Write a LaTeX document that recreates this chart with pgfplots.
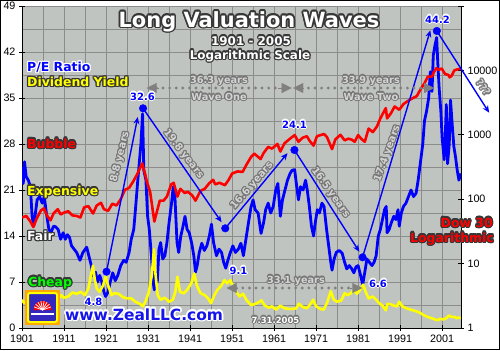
\documentclass[border=0pt]{standalone}
\usepackage{fontspec}
\setmainfont{Liberation Sans}
\newfontfamily\lab{DejaVu Sans}
\usepackage{pgfplots}
\pgfplotsset{compat=1.18}
\usetikzlibrary{arrows.meta}
\definecolor{plotbg}{RGB}{192,196,192}
\definecolor{gridc}{RGB}{140,140,140}
\definecolor{halodark}{RGB}{55,55,55}
\definecolor{yl}{RGB}{255,255,0}
\definecolor{gr}{RGB}{0,255,0}
\definecolor{ltg}{RGB}{212,212,212}
\definecolor{dkg}{RGB}{118,118,118}
\definecolor{dotg}{RGB}{128,128,128}
\definecolor{wwwblue}{RGB}{20,20,235}
\definecolor{logoblue}{RGB}{50,40,190}
\tikzset{lbl/.style={font=\lab\bfseries\fontsize{#1}{#1}\selectfont, inner sep=0pt}}
\newcommand\halo[7][1.1]{%
  \foreach \aa in {0,30,...,330}{\node[#4,text=#6] at ([shift={(\aa:#1bp)}]#2,#3) {#7};}%
  \node[#4,text=#5] at (#2,#3) {#7};}

\pgfplotstableread{
x y
1901.0 24.5
1901.3 22.0
1901.6 25.3
1902.0 23.0
1902.5 22.5
1903.0 21.5
1903.4 17.0
1903.8 15.5
1904.2 17.5
1904.6 19.5
1905.2 20.0
1905.8 19.0
1906.3 20.0
1906.8 17.5
1907.4 15.0
1907.9 14.5
1908.5 15.5
1909.0 15.4
1909.6 15.0
1910.2 13.5
1910.8 14.5
1911.3 13.5
1911.8 14.2
1912.3 13.8
1912.8 12.5
1913.4 12.0
1914.0 11.5
1914.8 10.3
1915.5 11.5
1916.4 12.3
1916.9 11.0
1917.5 9.5
1917.9 8.0
1918.5 8.5
1919.0 7.0
1919.5 8.0
1920.0 7.0
1920.5 5.5
1920.9 4.8
1921.5 5.5
1922.0 7.0
1922.6 8.4
1923.2 7.2
1923.8 8.0
1924.5 9.5
1925.2 10.3
1925.8 10.0
1926.5 11.5
1927.0 13.5
1927.6 15.0
1928.0 18.0
1928.5 22.0
1928.9 25.0
1929.3 28.0
1929.7 32.6
1930.0 24.0
1930.5 22.5
1930.9 17.0
1931.3 15.0
1931.8 11.0
1932.2 7.0
1932.5 5.8
1932.8 8.4
1933.2 7.0
1933.6 12.0
1934.0 13.0
1934.5 10.5
1935.0 11.0
1935.5 13.0
1936.0 16.0
1936.6 19.0
1937.0 21.5
1937.4 20.0
1937.9 13.0
1938.3 11.5
1938.8 14.0
1939.3 15.4
1939.8 17.0
1940.3 15.0
1940.8 14.5
1941.4 12.9
1941.9 11.0
1942.3 8.5
1942.7 9.5
1943.2 11.5
1943.8 12.9
1944.4 11.8
1945.0 12.5
1945.6 14.0
1946.1 15.8
1946.6 13.0
1947.3 11.0
1947.9 12.0
1948.5 11.5
1949.0 10.0
1949.5 9.1
1950.0 10.3
1950.6 11.5
1951.2 12.5
1951.8 11.5
1952.5 12.0
1953.1 12.9
1953.7 11.0
1954.3 13.5
1954.9 16.0
1955.5 18.4
1956.0 19.5
1956.5 18.0
1957.2 17.5
1957.9 14.4
1958.5 16.0
1959.0 18.0
1959.6 19.0
1960.2 17.5
1960.8 18.5
1961.4 21.0
1961.9 22.0
1962.5 17.0
1963.0 19.5
1963.6 21.0
1964.2 22.5
1964.8 23.5
1965.3 24.0
1965.9 24.1
1966.3 22.0
1966.8 19.5
1967.3 21.5
1967.9 21.0
1968.5 22.5
1968.9 21.0
1969.4 18.5
1969.9 15.5
1970.4 14.0
1970.8 16.0
1971.3 18.0
1971.8 17.5
1972.4 19.0
1972.9 18.5
1973.5 15.0
1974.0 12.5
1974.5 10.0
1974.8 8.8
1975.3 10.5
1975.8 11.5
1976.5 11.8
1977.2 11.4
1977.8 10.0
1978.3 9.0
1978.9 9.5
1979.5 9.0
1980.0 8.4
1980.5 9.3
1981.0 9.5
1981.6 8.0
1982.1 6.6
1982.6 8.5
1983.1 10.5
1983.7 10.0
1984.3 9.5
1984.8 10.0
1985.3 11.0
1985.8 14.0
1986.3 15.0
1986.8 16.5
1987.3 18.0
1987.7 18.5
1987.9 14.5
1988.4 15.0
1988.9 16.0
1989.5 17.0
1990.0 16.5
1990.5 18.0
1990.8 15.5
1991.3 17.5
1991.8 18.5
1992.4 19.0
1993.0 20.0
1993.6 21.0
1994.2 20.0
1994.8 20.5
1995.3 22.5
1995.9 25.5
1996.4 28.0
1996.8 31.5
1997.3 33.0
1997.8 35.0
1998.2 39.0
1998.6 36.0
1998.9 41.5
1999.3 43.0
1999.7 44.2
2000.0 40.0
2000.3 36.5
2000.7 33.0
2001.0 29.0
2001.5 25.6
2001.8 30.0
2002.0 34.0
2002.3 25.0
2002.7 28.0
2003.0 34.7
2003.4 31.0
2003.8 27.6
2004.2 26.0
2004.6 24.0
2005.0 22.5
2005.5 23.5
}\petable

\pgfplotstableread{
x y
1901.0 4.3
1901.5 3.8
1902.0 4.0
1903.0 4.3
1903.8 5.3
1904.5 4.5
1905.5 4.2
1906.3 4.0
1907.5 5.0
1908.0 5.6
1908.5 4.8
1909.5 4.3
1910.3 5.0
1911.0 4.6
1912.0 4.8
1913.0 5.4
1914.0 5.2
1915.0 5.5
1916.0 5.0
1916.8 6.0
1917.4 8.0
1917.9 9.5
1918.3 7.5
1918.8 6.0
1919.5 5.5
1920.3 6.5
1920.9 7.8
1921.5 6.5
1922.3 5.0
1923.0 5.3
1924.0 5.2
1925.0 4.7
1926.0 4.5
1927.0 4.5
1928.0 4.0
1929.0 3.7
1929.8 3.3
1930.5 4.2
1931.2 5.5
1931.9 8.0
1932.4 12.0
1932.8 8.0
1933.3 5.0
1934.0 4.3
1935.0 4.6
1936.0 4.0
1936.9 4.3
1937.5 5.5
1938.0 7.8
1938.6 5.5
1939.5 5.3
1940.3 5.8
1941.3 6.8
1942.0 8.3
1942.6 6.5
1943.5 5.3
1944.5 5.0
1945.3 4.5
1946.0 3.8
1946.8 5.0
1947.5 5.8
1948.5 6.5
1949.2 7.3
1949.8 6.8
1950.6 7.3
1951.2 6.3
1952.0 5.5
1952.8 4.8
1953.6 5.2
1954.5 4.2
1955.5 3.5
1956.3 3.6
1957.3 3.9
1958.0 4.2
1958.8 3.4
1959.8 3.1
1960.5 3.3
1961.5 2.8
1962.5 3.4
1963.5 3.0
1964.5 2.9
1965.5 2.9
1966.3 3.0
1966.9 3.7
1967.8 3.2
1968.8 3.0
1969.5 3.5
1970.3 4.3
1971.0 3.3
1972.0 2.9
1972.8 2.8
1973.6 3.8
1974.5 5.6
1975.2 4.3
1976.0 4.0
1977.0 4.2
1977.8 5.3
1978.5 5.0
1979.3 5.3
1980.0 5.8
1980.7 5.2
1981.5 5.8
1982.2 6.6
1982.8 5.5
1983.5 4.5
1984.5 4.8
1985.3 4.3
1986.0 3.8
1986.8 3.4
1987.6 2.7
1988.0 3.7
1988.8 3.6
1989.5 3.4
1990.3 3.3
1990.8 4.0
1991.5 3.3
1992.5 3.0
1993.5 2.8
1994.5 2.6
1995.5 2.4
1996.5 2.0
1997.5 1.7
1998.5 1.5
1999.3 1.3
2000.0 1.2
2000.6 1.4
2001.3 1.3
2002.0 1.5
2002.6 1.9
2003.2 1.7
2003.9 1.7
2004.5 1.5
2005.0 1.6
2005.5 1.5
}\dytable

\pgfplotstableread{
x y
1901.0 52
1902.0 55
1903.0 45
1903.7 37
1904.5 50
1905.5 67
1906.2 72
1907.0 55
1907.8 47
1908.5 60
1909.5 70
1910.2 58
1911.0 62
1912.0 65
1913.0 56
1914.0 55
1914.9 52
1915.8 75
1916.8 78
1917.9 60
1918.8 80
1919.8 88
1920.5 70
1921.5 66
1922.5 85
1923.5 80
1924.5 100
1925.5 140
1926.5 150
1927.5 190
1928.5 250
1929.6 360
1930.2 260
1930.8 180
1931.5 130
1932.5 45
1933.0 60
1933.8 95
1934.7 95
1935.5 110
1936.5 170
1937.1 180
1938.0 110
1938.7 145
1939.7 125
1940.5 130
1941.5 115
1942.3 95
1943.5 135
1944.5 145
1945.5 175
1946.5 200
1947.0 170
1948.0 180
1949.3 165
1950.2 200
1951.0 250
1952.3 270
1953.5 265
1954.5 350
1955.5 450
1956.3 510
1957.8 420
1958.5 520
1959.6 650
1960.5 610
1961.8 720
1962.5 550
1963.5 740
1964.8 870
1965.9 990
1966.8 780
1967.8 900
1968.8 950
1969.5 800
1970.4 680
1971.2 950
1972.9 1030
1973.6 920
1974.8 600
1975.6 850
1976.8 1000
1977.8 820
1978.7 870
1979.5 840
1980.2 780
1981.0 990
1981.8 860
1982.6 780
1983.5 1250
1984.5 1100
1985.5 1350
1986.3 1800
1987.6 2600
1987.9 1800
1988.8 2150
1989.7 2750
1990.8 2450
1991.8 3000
1993.0 3400
1994.3 3800
1995.0 4000
1995.8 5000
1996.8 6300
1997.6 8000
1998.6 8000
1999.0 9300
1999.6 10800
2000.2 10200
2000.9 10700
2001.7 8800
2002.5 8500
2002.8 7800
2003.3 8300
2003.9 10000
2004.5 10300
2005.0 10500
2005.5 10600
}\dowtable

\begin{document}
\begin{tikzpicture}[x=1bp,y=1bp]
\path[use as bounding box] (-22,-22) rectangle (478,328);
% left axis: P/E and dividend yield
\begin{axis}[at={(0,0)}, anchor=south west, scale only axis, width=439bp, height=322bp,
  xmin=1901, xmax=2005.5, ymin=0, ymax=49,
  axis y line*=left, axis x line*=bottom,
  axis line style={black, line width=0.8bp, -},
  xtick={1901,1911,...,2001}, ytick={0,7,...,49},
  minor xtick={1906,1916,...,1996}, minor ytick={3.5,10.5,...,45.5},
  grid=both, major grid style={gridc, line width=0.8bp}, minor grid style={gridc, line width=0.8bp},
  tick align=center, major tick length=6bp, minor tick length=0pt,
  tick style={black, line width=0.8bp},
  axis background/.style={fill=plotbg},
  tick label style={font=\fontsize{10.8}{12}\selectfont},
  /pgf/number format/assume math mode=true, /pgf/number format/1000 sep={}]
\addplot[blue, line width=2.8bp, line join=round] table[x=x,y=y] {\petable};
\addplot[yl, line width=2.6bp, line join=round] table[x=x,y=y] {\dytable};
\end{axis}
% right axis: Dow 30, logarithmic
\begin{axis}[at={(0,0)}, anchor=south west, scale only axis, width=439bp, height=322bp,
  xmin=1901, xmax=2005.5, ymode=log, ymin=1, ymax=100000,
  axis y line*=right, axis x line=none,
  axis line style={black, line width=0.8bp, -},
  ytick={1,10,100,1000,10000,100000}, yticklabels={1,10,100,1000,10000,{}},
  tick align=center, major tick length=6bp, minor tick length=0pt,
  tick style={black, line width=0.8bp},
  tick label style={font=\fontsize{10.8}{12}\selectfont}]
\addplot[red, line width=2.6bp, line join=round] table[x=x,y=y] {\dowtable};
\end{axis}
% overlay axis: arrows and turning points
\begin{axis}[at={(0,0)}, anchor=south west, scale only axis, width=439bp, height=322bp,
  xmin=1901, xmax=2005.5, ymin=0, ymax=49, hide axis, clip=false]
\tikzset{bar/.style={blue, line width=1.4bp, -{Stealth[length=7bp,width=6bp]}},
  dotl/.style={dotg, line width=3.2bp, line cap=round, dash pattern=on 0bp off 6.6bp},
  gtip/.style={dotg, line width=0.1bp, -{Triangle[length=10bp,width=10bp]}}}
\draw[bar] (axis cs:1921.12,8.57) -- (axis cs:1928.55,32.1);
\draw[bar] (axis cs:1929.81,33.43) -- (axis cs:1948.5,16.1);
\draw[bar] (axis cs:1949.38,15.17) -- (axis cs:1964.2,26.6);
\draw[bar] (axis cs:1965.85,27.09) -- (axis cs:1981.3,11.6);
\draw[bar] (axis cs:1982.07,10.76) -- (axis cs:1998.2,45.3);
\draw[bar] (axis cs:1999.74,45.2) -- (axis cs:2012.2,32.77);
\addplot[only marks, mark=*, mark size=3.8bp, blue] coordinates {
 (1921.12,8.57) (1929.81,33.43) (1949.38,15.17) (1965.85,27.09) (1982.07,10.76) (1999.74,45.2)};
% wave one / wave two
\draw[dotl] (axis cs:1933.0,36.52) -- (axis cs:1962.6,36.52);
\draw[gtip] (axis cs:1933.5,36.52) -- (axis cs:1930.69,36.52);
\draw[gtip] (axis cs:1962.0,36.52) -- (axis cs:1965.2,36.52);
\draw[gtip] (axis cs:1968.0,36.52) -- (axis cs:1965.55,36.52);
\draw[dotl] (axis cs:1967.6,36.52) -- (axis cs:1996.4,36.52);
\draw[gtip] (axis cs:1996.0,36.52) -- (axis cs:1999.1,36.52);
% 33.1 years
\draw[dotl] (axis cs:1952.0,6.09) -- (axis cs:1979.4,6.09);
\draw[gtip] (axis cs:1952.5,6.09) -- (axis cs:1949.69,6.09);
\draw[gtip] (axis cs:1979.0,6.09) -- (axis cs:1982.0,6.09);
\end{axis}
% text annotations in image pixel coordinates
\begin{scope}[x=1bp, y=-1bp, shift={(-22,-328)}]
% logo
\fill[orange!70!yellow] (25,290) rectangle (60,325);
\draw[line width=2bp, draw=yl, fill=logoblue, rounded corners=2bp] (28,293) rectangle (57,322);
\fill[red] (33.5,310) arc[start angle=180, end angle=360, radius=9] -- cycle;
\foreach \a in {200,220,...,340}{\draw[white, line width=0.7bp] (42.5,310) -- +(\a:9);}
\draw[white, line width=1.6bp] (31,314) -- (54,314);
\halo[1.7]{249}{27}{lbl=21, anchor=base}{white}{halodark}{Long Valuation Waves}
\halo[1.2]{251}{45}{lbl=12, anchor=base}{white}{halodark}{1901 - 2005}
\halo[1.2]{250}{59}{lbl=12, anchor=base}{white}{halodark}{Logarithmic Scale}
\halo[1.2]{27}{71.5}{lbl=12.5, anchor=base west}{blue}{white}{P/E Ratio}
\halo[1.2]{27}{86.5}{lbl=12.5, anchor=base west}{yl}{halodark}{Dividend Yield}
\halo[1.2]{27}{148}{lbl=12.5, anchor=base west}{red}{halodark}{Bubble}
\halo[1.2]{27}{195}{lbl=12.5, anchor=base west}{yl}{halodark}{Expensive}
\halo[1.2]{27}{240.5}{lbl=12.5, anchor=base west}{white}{halodark}{Fair}
\halo[1.2]{28}{286}{lbl=12.5, anchor=base west}{gr}{halodark}{Cheap}
\halo[1.2]{493}{227}{lbl=12.5, anchor=base east}{red}{halodark}{Dow 30}
\halo[1.2]{494}{242}{lbl=12.5, anchor=base east}{red}{halodark}{Logarithmic}
\halo[1.7]{65}{320}{lbl=15.5, anchor=base west}{wwwblue}{white}{www.ZealLLC.com}
\halo{142.5}{100}{lbl=10, anchor=base}{blue}{white}{32.6}
\halo{294.5}{128}{lbl=10, anchor=base}{blue}{white}{24.1}
\halo{437.5}{23}{lbl=10, anchor=base}{blue}{white}{44.2}
\halo{93.5}{305}{lbl=10, anchor=base}{blue}{white}{4.8}
\halo{238.5}{274}{lbl=10, anchor=base}{blue}{white}{9.1}
\halo{378}{287}{lbl=10, anchor=base}{blue}{white}{6.6}
\halo{219}{83}{lbl=9.8, anchor=base}{ltg}{dkg}{36.3 years}
\halo{219}{100}{lbl=9.8, anchor=base}{ltg}{dkg}{Wave One}
\halo{371}{83}{lbl=9.8, anchor=base}{ltg}{dkg}{33.9 years}
\halo{371}{100}{lbl=9.8, anchor=base}{ltg}{dkg}{Wave Two}
\halo{296}{283}{lbl=9.8, anchor=base}{ltg}{dkg}{33.1 years}
\halo{275.5}{323}{lbl=8.5, anchor=base}{white}{dkg}{7.31.2005}
\halo{120}{157}{lbl=10, rotate=76}{ltg}{dkg}{8.8 years}
\halo{183.5}{154}{lbl=10, rotate=-52}{ltg}{dkg}{19.8 years}
\halo{252}{186}{lbl=10, rotate=49}{ltg}{dkg}{16.6 years}
\halo{330.5}{192.5}{lbl=10, rotate=-54.5}{ltg}{dkg}{16.5 years}
\halo{387.5}{153.5}{lbl=10, rotate=70}{ltg}{dkg}{17.4 years}
\halo{483.5}{87.5}{lbl=10, rotate=-55}{ltg}{dkg}{???}
\end{scope}
\draw[black, line width=1bp] (-21.5,-21.5) rectangle (477.5,327.5);
\end{tikzpicture}
\end{document}
